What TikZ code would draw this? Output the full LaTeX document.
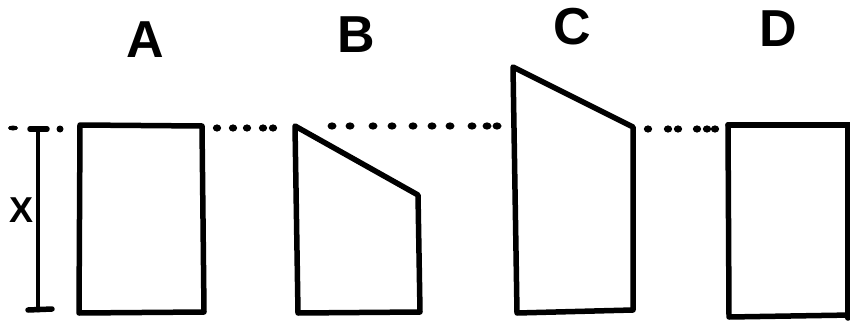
\documentclass[tikz,border=0pt]{standalone}
\usepackage{fontspec}
\setmainfont{Liberation Sans}
\begin{document}
\begin{tikzpicture}[x=1pt,y=-1pt,
  stroke/.style={line width=5.5pt,line join=round,line cap=round},
  lbl/.style={font=\fontsize{52}{52}\selectfont\bfseries,inner sep=0pt},
  dimlbl/.style={font=\fontsize{36}{36}\selectfont\bfseries,inner sep=0pt}]
\clip (0,0) rectangle (850,326);
% labels
\node[lbl] (la) at (145,40) {A};
\node[lbl] (lb) at (356,35) {B};
\node[lbl] (lc) at (572,27) {C};
\node[lbl] (ld) at (778,29) {D};
\node[dimlbl] (lx) at (22,210) {X};
% corners
\coordinate (a1) at (80,125); \coordinate (a2) at (202,126);
\coordinate (a3) at (204,312); \coordinate (a4) at (79,313);
\coordinate (b1) at (295,126); \coordinate (b2) at (418,195);
\coordinate (b3) at (420,312); \coordinate (b4) at (298,313);
\coordinate (c1) at (513,67); \coordinate (c2) at (633,127);
\coordinate (c3) at (633,310); \coordinate (c4) at (517,313);
\coordinate (d1) at (728,125); \coordinate (d2) at (852,125);
\coordinate (d3) at (852,315); \coordinate (d4) at (729,317);
% shapes
\draw[stroke] (a1) -- (a2) -- (a3) -- (a4) -- cycle;
\draw[stroke] (b1) -- (b2) -- (b3) -- (b4) -- cycle;
\draw[stroke] (c1) -- (c2) -- (c3) -- (c4) -- cycle;
\draw[stroke] (d1) -- (d2);
\draw[stroke] (d1) -- (d4) -- (d3);
\draw[stroke] (848,127) -- (848,318);
% dimension
\coordinate (x1) at (38,130); \coordinate (x2) at (38,310);
\draw[stroke,line width=4.5pt] (x1) -- (x2);
\draw[stroke] (30,129) -- (47,129);
\draw[stroke] (28,310) -- (52,309);
% dotted reference line
\fill (13,128) ellipse (5 and 2.5);
\fill (60,129) ellipse (3.5 and 3.5);
\foreach \x in {217,233,247,263,273} \fill (\x,128) ellipse (4.2 and 3.6);
\foreach \x in {332,350,373,392,413,432,450,472,487,497} \fill (\x,126) ellipse (4.5 and 3.6);
\foreach \x in {648,668,678,697,707,715} \fill (\x,129) ellipse (4.2 and 3.6);
\end{tikzpicture}
\end{document}
